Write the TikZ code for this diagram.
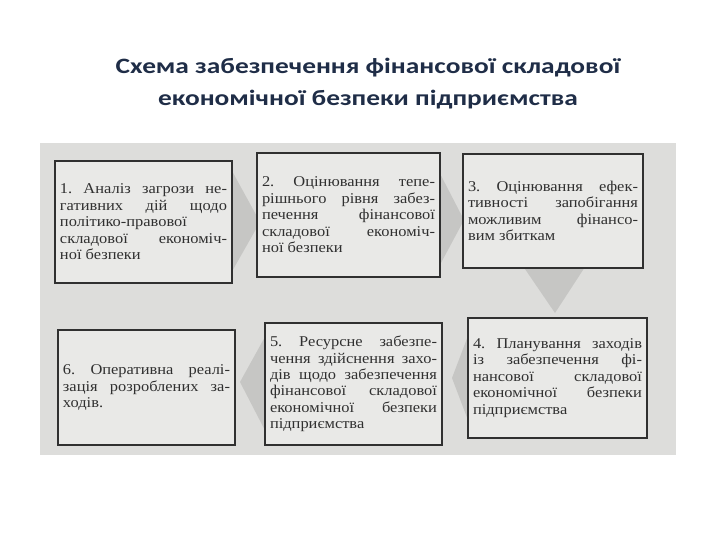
\documentclass[tikz,border=0pt]{standalone}
\usepackage{fontspec}
\setmainfont[FakeStretch=1.1]{Liberation Serif}
\newfontfamily\titlefont[FakeStretch=1.25]{Carlito}
\definecolor{titleblue}{HTML}{1F2D47}
\definecolor{scan}{HTML}{DDDDDB}
\definecolor{boxfill}{HTML}{E9E9E7}
\definecolor{ink}{HTML}{303030}
\definecolor{wedge}{HTML}{C6C6C4}
\tikzset{
  stage/.style={draw=ink, line width=1.3bp, fill=boxfill, text=ink,
    inner sep=5bp, align=justify,
    font=\fontsize{15}{16.5}\selectfont},
}
\begin{document}
\begin{tikzpicture}[x=1bp, y=-1bp]
\useasboundingbox (0,0) rectangle (720,540);
\node[font=\titlefont\bfseries\fontsize{22}{32}\selectfont, text=titleblue, align=center] (title) at (368,84)
  {Схема забезпечення фінансової складової\\економічної безпеки підприємства};
\fill[scan] (40,143) rectangle (676,455);
% wedges behind the boxes
\fill[wedge] (226,160)--(260,222)--(226,282)--cycle;
\fill[wedge] (434,162)--(464,220)--(434,276)--cycle;
\fill[wedge] (512,250)--(596,250)--(555,313)--cycle;
\fill[wedge] (474,320)--(452,378)--(474,436)--cycle;
\fill[wedge] (271,326)--(240,382)--(271,442)--cycle;
% stages
\node[stage, minimum width=177bp, minimum height=122bp, text width=167bp] (s1) at (143.5,222)
  {1.~Аналіз загрози не-\linebreak гативних дій щодо\linebreak політико-правової\\ складової економіч-\linebreak ної безпеки};
\node[stage, minimum width=183bp, minimum height=124bp, text width=173bp] (s2) at (348.5,215)
  {2.~Оцінювання тепе-\linebreak рішнього рівня забез-\linebreak печення фінансової\linebreak складової економіч-\linebreak ної безпеки};
\node[stage, minimum width=180bp, minimum height=114bp, text width=170bp] (s3) at (553,211)
  {3.~Оцінювання ефек-\linebreak тивності запобігання\linebreak можливим фінансо-\linebreak вим збиткам};
\node[stage, minimum width=179bp, minimum height=120bp, text width=169bp] (s4) at (557.5,378)
  {4.~Планування заходів\linebreak із забезпечення фі-\linebreak нансової складової\linebreak економічної безпеки\linebreak підприємства};
\node[stage, minimum width=177bp, minimum height=122bp, text width=167bp] (s5) at (353.5,384)
  {5.~Ресурсне забезпе-\linebreak чення здійснення захо-\linebreak дів щодо забезпечення\linebreak фінансової складової\linebreak економічної безпеки\linebreak підприємства};
\node[stage, minimum width=177bp, minimum height=115bp, text width=167bp] (s6) at (146.5,387.5)
  {6.~Оперативна реалі-\linebreak зація розроблених за-\linebreak ходів.};
\end{tikzpicture}
\end{document}
